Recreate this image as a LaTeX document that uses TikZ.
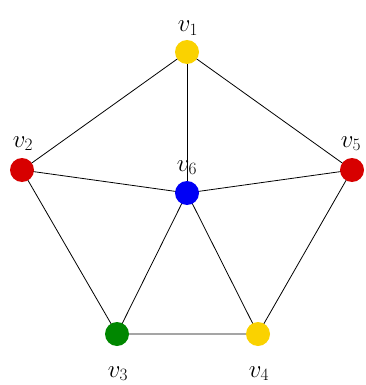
\documentclass[tikz,border=0pt]{standalone}
\begin{document}
\begin{tikzpicture}[x=1pt,y=-1pt,
  vert/.style={circle,inner sep=0pt,minimum size=24pt},
  lbl/.style={anchor=base,inner sep=0pt,font=\fontsize{27}{30}\selectfont},
  edge/.style={line width=0.8pt}]
\definecolor{vyel}{RGB}{250,210,0}
\definecolor{vred}{RGB}{215,0,0}
\definecolor{vgrn}{RGB}{0,135,0}
\definecolor{vblu}{RGB}{0,0,245}
\useasboundingbox (0,0) rectangle (365,385);
\coordinate (p1) at (187,52);
\coordinate (p2) at (22,170);
\coordinate (p3) at (117,334);
\coordinate (p4) at (258,334);
\coordinate (p5) at (352,170);
\coordinate (p6) at (187,193);
\draw[edge] (p1) -- (p2) -- (p3) -- (p4) -- (p5) -- (p1);
\foreach \i in {1,...,5} \draw[edge] (p6) -- (p\i);
\node[vert,fill=vyel] (v1) at (p1) {};
\node[vert,fill=vred] (v2) at (p2) {};
\node[vert,fill=vgrn] (v3) at (p3) {};
\node[vert,fill=vyel] (v4) at (p4) {};
\node[vert,fill=vred] (v5) at (p5) {};
\node[vert,fill=vblu] (v6) at (p6) {};
\node[lbl] (l1) at (188,32) {$v_1$};
\node[lbl] (l2) at (23,147) {$v_2$};
\node[lbl] (l3) at (118,377) {$v_3$};
\node[lbl] (l4) at (259,377) {$v_4$};
\node[lbl] (l5) at (351,147) {$v_5$};
\node[lbl] (l6) at (187,171) {$v_6$};
\end{tikzpicture}
\end{document}
